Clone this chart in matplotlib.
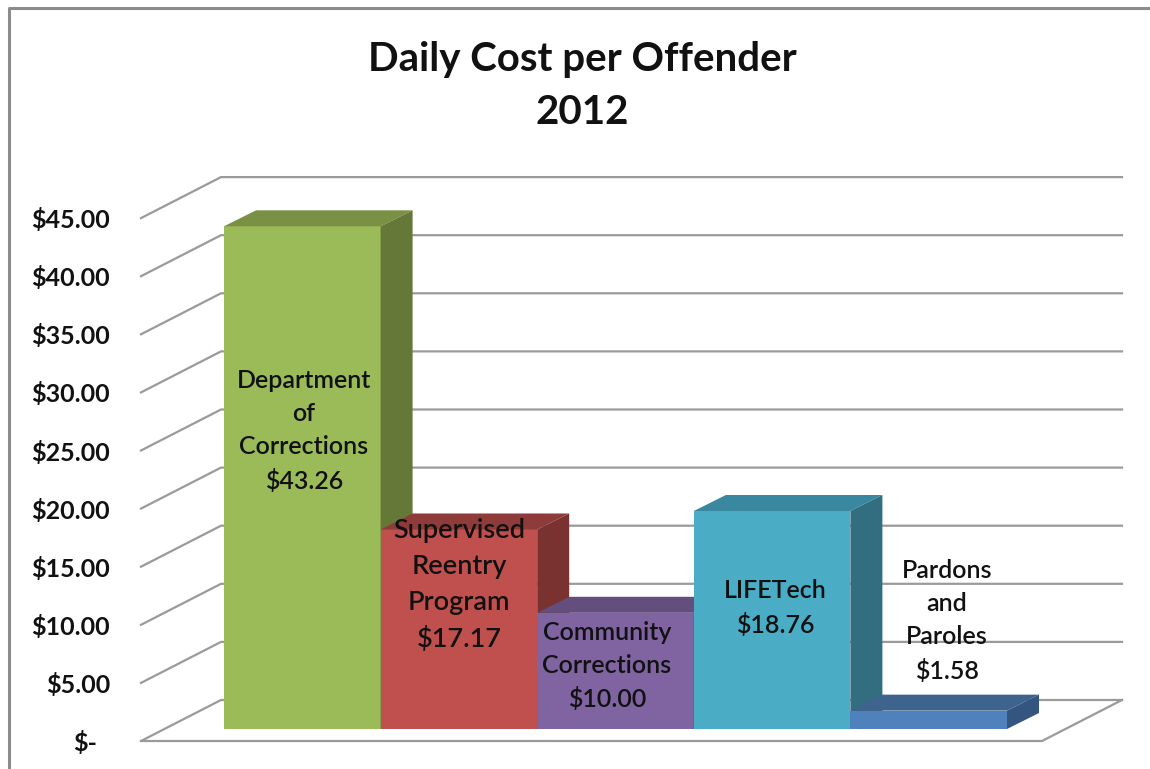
import matplotlib.pyplot as plt

# dane
programs = ['Department\nof\nCorrections', 'Supervised\nReentry\nProgram', 'Community\nCorrections', 'LIFETech', 'Pardons\nand\nParoles']
costs = [43.26, 17.17, 10.00, 18.76, 1.58]
cost_labels = ['$43.26', '$17.17', '$10.00', '$18.76', '$1.58']
ticks = [0, 5, 10, 15, 20, 25, 30, 35, 40, 45]
tick_labels = ['$-', '$5.00', '$10.00', '$15.00', '$20.00', '$25.00', '$30.00', '$35.00', '$40.00', '$45.00']

front_colors = ['#9BBB59', '#C0504D', '#8064A2', '#4BACC6', '#4F81BD']
top_colors = ['#7A9145', '#8F3B39', '#634E7E', '#3A88A0', '#3E638F']
side_colors = ['#667838', '#7A3230', '#543F6E', '#326E80', '#34557F']

plt.rcParams['font.family'] = ['Lato', 'DejaVu Sans']

W, H = 1150, 769
bar_w = 156.6   # px na jeden slupek
per_dollar = 11.62   # px na dolara
x0 = 224.0
y0 = 741.0

fig = plt.figure(figsize=(W / 100, H / 100), dpi=100)
ax = fig.add_axes([0, 0, 1, 1])
ax.set_xlim(-x0 / bar_w, (W - x0) / bar_w)
ax.set_ylim((y0 - H) / per_dollar, y0 / per_dollar)
ax.axis('off')

px = lambda p: p / bar_w
usd = lambda p: p / per_dollar

# ramka
frame_l, frame_t = px(8.5 - x0), (y0 - 7.5) / per_dollar
ax.plot([frame_l, frame_l, px(W - x0)], [(y0 - H) / per_dollar, frame_t, frame_t], color='#8C8C8C', lw=2.2, solid_capstyle='butt')

# sciany i siatka
wall_dx, wall_dy = px(80), usd(41)
left = px(141 - x0)
right = px(1042 - x0)
grid_c = '#9A9A9A'
for t in ticks:
    ax.plot([left, left + wall_dx, right + wall_dx], [t, t + wall_dy, t + wall_dy], color=grid_c, lw=1.6)
ax.plot([left, right, right + wall_dx], [0, 0, wall_dy], color=grid_c, lw=1.6)

# slupki 3d
lift = usd(12)
dx, dy = px(32), usd(16)
for i, v in enumerate(costs):
    top = lift + v
    ax.bar(i, v, width=1, bottom=lift, align='edge', color=front_colors[i], zorder=3 + i)
    ax.fill([i, i + 1, i + 1 + dx, i + dx], [top, top, top + dy, top + dy], color=top_colors[i], lw=0, zorder=3 + i)
    ax.fill([i + 1, i + 1 + dx, i + 1 + dx, i + 1], [lift, lift + dy, top + dy, top], color=side_colors[i], lw=0, zorder=3 + i)

# opisy slupkow
centers = [(304, 431), (459, 585), (607, 666), (775, 608), (947, 621)]
sizes = [18, 19.5, 18, 18, 18]
spacing = [1.53, 1.55, 1.53, 1.53, 1.55]
for name, lab, (cx, cy), fs, ls in zip(programs, cost_labels, centers, sizes, spacing):
    ax.text(px(cx - x0), (y0 - cy) / per_dollar, name + '\n' + lab, ha='center', va='center',
            fontsize=fs, fontweight='semibold', color='#111111', linespacing=ls, zorder=20)

# etykiety osi
for t, lab in zip(ticks, tick_labels):
    xr = px((97 if t == 0 else 110) - x0)
    ax.text(xr, t - usd(2), lab, ha='right', va='center', fontsize=18, fontweight='bold', color='#111111', zorder=20)

ax.text(px(582 - x0), (y0 - 86) / per_dollar, 'Daily Cost per Offender\n2012', ha='center', va='center',
        fontsize=29, fontweight='bold', color='#111111', linespacing=1.5)

fig.savefig('out.png', dpi=100)
